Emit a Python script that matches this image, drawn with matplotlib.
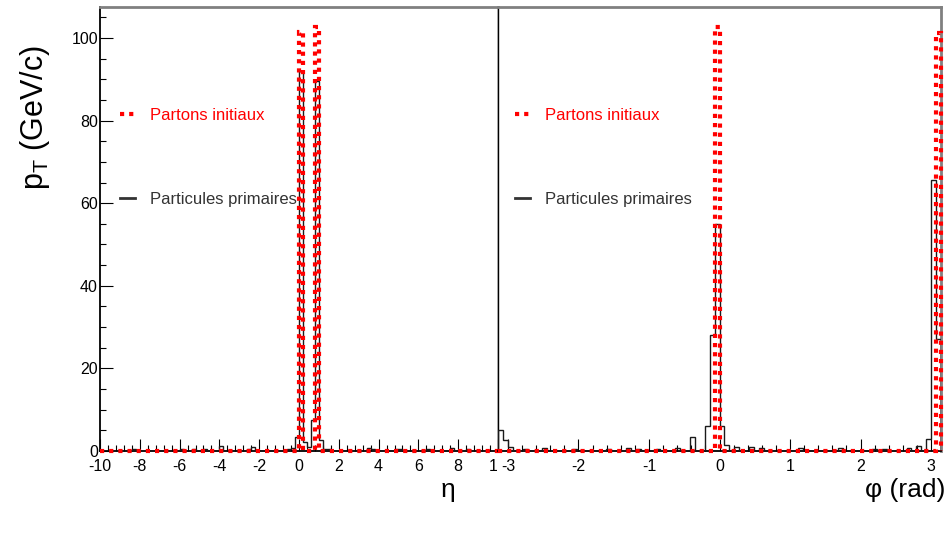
import numpy as np
import matplotlib
matplotlib.use("Agg")
import matplotlib.pyplot as plt
from matplotlib.lines import Line2D
from matplotlib.ticker import MultipleLocator, FixedLocator
from matplotlib.transforms import Bbox, TransformedBbox

plt.rcParams['font.family'] = ['Liberation Sans', 'DejaVu Sans']
plt.rcParams['mathtext.default'] = 'regular'
plt.rcParams['axes.unicode_minus'] = False

# ---------------- data ----------------
# eta histogram (bins of 0.2 from -10 to 10): non-empty bin centres and pT sums
eta_black_centers = [-8.3, -5.9, -5.3, -4.7, -3.9, -2.5, -2.3, -0.5, -0.3, -0.1,
                     0.1, 0.3, 0.5, 0.7, 0.9, 1.1, 1.3, 1.5, 3.5, 3.7,
                     4.9, 5.1, 6.5, 7.7, 8.5]
eta_black_values = [0.6, 0.5, 0.4, 0.5, 1.2, 0.6, 1.0, 0.5, 0.8, 3.4,
                    92.0, 2.2, 1.0, 7.5, 89.5, 2.7, 0.6, 0.5, 0.8, 0.6,
                    0.5, 0.5, 0.6, 0.8, 0.4]
eta_red_centers = [0.1, 0.9]
eta_red_values = [101.4, 102.7]

# phi histogram (90 bins from -pi to pi)
phi_black_centers = [-3.107, -3.037, -2.967, -2.758, -2.478, -2.059, -1.571, -1.292,
                     -1.152, -0.873, -0.593, -0.384, -0.175, -0.105, -0.035, 0.035,
                     0.105, 0.244, 0.454, 0.593, 1.152, 1.710, 2.199, 2.339,
                     2.688, 2.828, 2.967, 3.037, 3.107]
phi_black_values = [5.0, 2.6, 1.0, 0.6, 0.7, 0.5, 0.5, 0.8,
                    0.6, 0.5, 0.7, 3.5, 6.0, 28.0, 55.0, 6.0,
                    1.4, 1.0, 1.0, 0.7, 0.8, 0.8, 0.6, 0.6,
                    0.7, 1.2, 3.0, 65.6, 27.0]
phi_red_centers = [-0.035, 3.107]
phi_red_values = [102.7, 101.2]

eta_ticks = [-10, -8, -6, -4, -2, 0, 2, 4, 6, 8, 10]
phi_ticks = [-3, -2, -1, 0, 1, 2, 3]
y_ticks = [0, 20, 40, 60, 80, 100]
legend_labels = ["Partons initiaux", "Particules primaires"]

# ---------------- figure ----------------
W, H = 948, 536
fig = plt.figure(figsize=(W / 100, H / 100), dpi=100)
fig.patch.set_facecolor('white')

y0, ytop = 451, 7
axL = fig.add_axes([100 / W, (H - y0) / H, 398 / W, (y0 - ytop) / H])
axR = fig.add_axes([498 / W, (H - y0) / H, 443 / W, (y0 - ytop) / H])

eta_edges = np.linspace(-10, 10, 101)
phi_edges = np.linspace(-np.pi, np.pi, 91)

red = '#ff0000'
blk = '#1a1a1a'
red_ls = (0, (1.0, 1.2))


def draw(ax, edges, bc, bv, rc, rv):
    hb, _ = np.histogram(bc, bins=edges, weights=bv)
    hr, _ = np.histogram(rc, bins=edges, weights=rv)
    ax.stairs(hb, edges, color=blk, lw=1.0, zorder=3)
    ax.stairs(hr, edges, color=red, lw=3.0, linestyle=red_ls, zorder=4,
              clip_on=False)


draw(axL, eta_edges, eta_black_centers, eta_black_values, eta_red_centers, eta_red_values)
draw(axR, phi_edges, phi_black_centers, phi_black_values, phi_red_centers, phi_red_values)

for ax in (axL, axR):
    ax.set_ylim(0, 107.5)
    ax.spines['top'].set_color('#808080')
    ax.spines['top'].set_linewidth(2.0)
    ax.spines['bottom'].set_color('black')
    ax.spines['bottom'].set_linewidth(1.3)
    ax.tick_params(axis='x', which='both', direction='in', top=False, bottom=True,
                   color='black', width=0.8, labelsize=11.5, pad=5.5)
    ax.tick_params(axis='x', which='major', length=9)
    ax.tick_params(axis='x', which='minor', length=4.5)

axL.set_xlim(-10, 10)
axR.set_xlim(-np.pi, np.pi)

axL.spines['left'].set_color('black')
axL.spines['left'].set_linewidth(1.3)
axL.spines['right'].set_color('black')
axL.spines['right'].set_linewidth(1.0)
axR.spines['left'].set_color('black')
axR.spines['left'].set_linewidth(1.0)
axR.spines['right'].set_color('#808080')
axR.spines['right'].set_linewidth(2.0)

axL.xaxis.set_major_locator(FixedLocator(eta_ticks))
axL.xaxis.set_minor_locator(MultipleLocator(0.4))
axR.xaxis.set_major_locator(FixedLocator(phi_ticks))
axR.xaxis.set_minor_locator(MultipleLocator(0.2))

axL.yaxis.set_major_locator(FixedLocator(y_ticks))
axL.yaxis.set_minor_locator(MultipleLocator(5))
axL.tick_params(axis='y', which='both', direction='in', left=True, right=False,
                color='black', width=0.8, labelsize=11.5, pad=1.5)
axL.tick_params(axis='y', which='major', length=9)
axL.tick_params(axis='y', which='minor', length=4.5)
axR.tick_params(axis='y', which='both', left=False, right=False, labelleft=False)

# clip the left panel tick labels at the panel boundary ("10" partly hidden)
clipbox = TransformedBbox(Bbox.from_extents(0, 0, 497.5 / W, 1), fig.transFigure)
for lab in axL.get_xticklabels():
    lab.set_clip_on(True)
    lab.set_clip_box(clipbox)

# legends
for ax, x0 in ((axL, 0.050), (axR, 0.038)):
    handles = [Line2D([], [], color=red, lw=3.0, linestyle=red_ls),
               Line2D([], [], color='#333333', lw=2.0)]
    leg = ax.legend(handles, legend_labels, loc='upper left',
                    bbox_to_anchor=(x0, 0.772), frameon=False, fontsize=12,
                    handlelength=0.9, handletextpad=0.9, labelspacing=4.1,
                    borderaxespad=0, borderpad=0)
    leg.get_texts()[0].set_color(red)
    leg.get_texts()[1].set_color('#333333')

# axis titles
fig.text(35 / W, 1 - 118 / H, r'p$_{T}$ (GeV/c)', rotation=90, ha='center',
         va='center', fontsize=22)
fig.text(448 / W, 1 - 490 / H, 'η', ha='center', va='center', fontsize=19)
fig.text(945 / W, 1 - 490 / H, 'φ (rad)', ha='right', va='center', fontsize=19)

fig.savefig('out.png', dpi=100)
